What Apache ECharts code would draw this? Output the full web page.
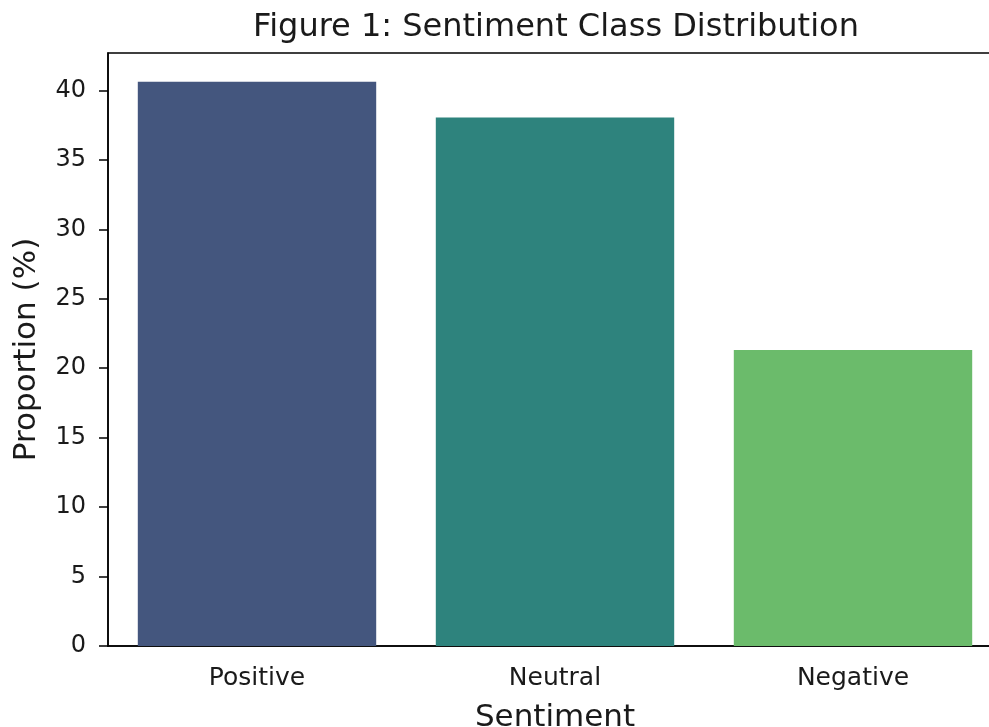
<!DOCTYPE html>
<html>
<head>
<meta charset="utf-8">
<script src="https://cdn.jsdelivr.net/npm/echarts@6/dist/echarts.min.js"></script>
<style>
html,body{margin:0;padding:0;background:#fff;}
#chart{width:989px;height:727px;}
</style>
</head>
<body>
<div id="chart"></div>
<script>
const categories = ['Positive', 'Neutral', 'Negative'];
const proportions = [40.63, 38.05, 21.32];
const barColors = ['#44567e', '#2e837d', '#6bbb6b'];
const yTicks = [0, 5, 10, 15, 20, 25, 30, 35, 40];

const chart = echarts.init(document.getElementById('chart'));
const font = 'DejaVu Sans';
chart.setOption({
  animation: false,
  backgroundColor: '#ffffff',
  title: {
    text: 'Figure 1: Sentiment Class Distribution',
    left: 551,
    top: 7,
    textAlign: 'center',
    textStyle: { fontFamily: font, fontSize: 32, fontWeight: 'normal', color: '#1a1a1a' }
  },
  grid: {
    left: 108, top: 53, width: 894, height: 593,
    containLabel: false,
    outerBoundsMode: 'none',
    show: true, borderColor: '#000', borderWidth: 1.5, backgroundColor: 'transparent'
  },
  xAxis: {
    type: 'category',
    data: categories,
    name: 'Sentiment',
    nameLocation: 'middle',
    nameGap: 56,
    nameTextStyle: { fontFamily: font, fontSize: 31, color: '#1a1a1a' },
    axisLine: { lineStyle: { color: '#000', width: 1.5 } },
    axisTick: { alignWithLabel: true, length: 9, lineStyle: { color: '#000', width: 1.5 } },
    axisLabel: { fontFamily: font, fontSize: 25, color: '#1a1a1a', margin: 20 },
    splitLine: { show: false }
  },
  yAxis: {
    type: 'value',
    min: 0,
    max: 42.7,
    name: 'Proportion (%)',
    nameLocation: 'middle',
    nameGap: 66,
    nameTextStyle: { fontFamily: font, fontSize: 31, color: '#1a1a1a' },
    axisLine: { show: true, lineStyle: { color: '#000', width: 1.5 } },
    axisTick: { show: true, length: 9, customValues: yTicks, lineStyle: { color: '#000', width: 1.5 } },
    axisLabel: {
      fontFamily: font, fontSize: 24, color: '#1a1a1a', margin: 22,
      customValues: yTicks
    },
    splitLine: { show: false }
  },
  series: [{
    type: 'bar',
    data: proportions.map((v, i) => ({ value: v, itemStyle: { color: barColors[i] } })),
    barCategoryGap: '20%'
  }]
});
</script>
</body>
</html>
